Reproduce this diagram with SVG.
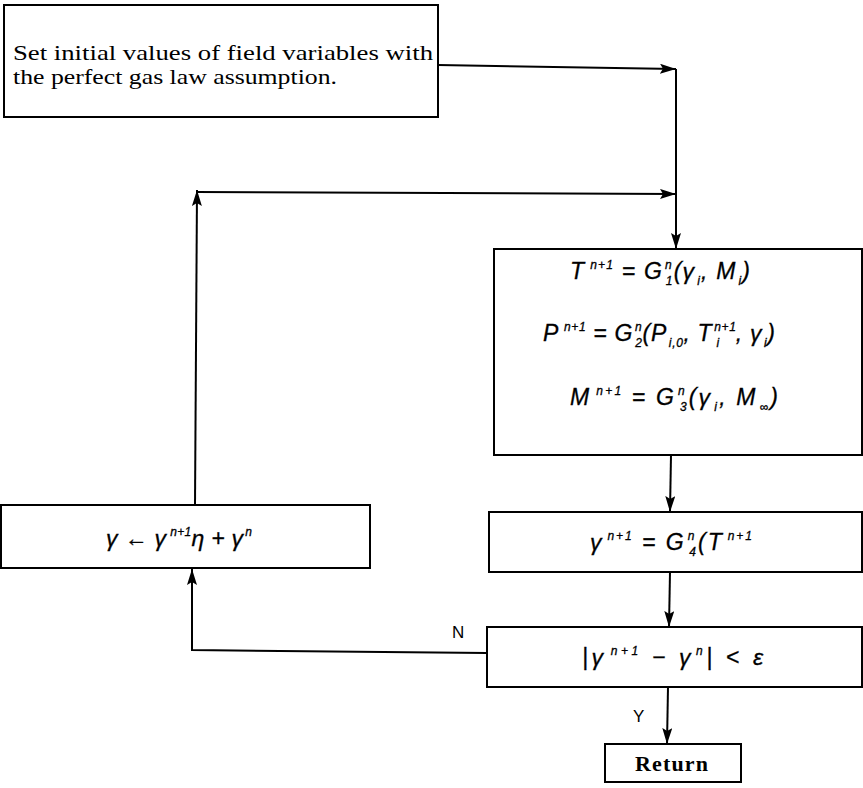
<svg xmlns="http://www.w3.org/2000/svg" width="863" height="788" viewBox="0 0 863 788">
<style>
.box{fill:#fff;stroke:#000;stroke-width:2}
.ln{fill:none;stroke:#000;stroke-width:2}
.ser{font-family:"Liberation Serif",serif;font-size:22px;fill:#000}
.eq{font-family:"Liberation Sans",sans-serif;font-style:italic;font-size:23px;fill:#000;stroke:#000;stroke-width:0.3}
.s{font-size:12px}
.lbl{font-family:"Liberation Sans",sans-serif;font-size:17px;fill:#000}
</style>
<defs>
<marker id="ah" viewBox="0 0 16 10" refX="16" refY="5" markerWidth="16" markerHeight="10" markerUnits="userSpaceOnUse" orient="auto">
<path d="M0,0 L16,5 L0,10 L3,5 Z" fill="#000"/>
</marker>
</defs>
<rect width="863" height="788" fill="#fff"/>

<g id="connectors">
<path class="ln" d="M438,65 L676,69" marker-end="url(#ah)"/>
<path class="ln" d="M676,69 L676,249" marker-end="url(#ah)"/>
<path class="ln" d="M197,192 L676,194" marker-end="url(#ah)"/>
<path class="ln" d="M195,505 L197,190" marker-end="url(#ah)"/>
<path class="ln" d="M671,455 L670,512" marker-end="url(#ah)"/>
<path class="ln" d="M670,572 L669,627" marker-end="url(#ah)"/>
<path class="ln" d="M487,653 L192,650 L192,569" marker-end="url(#ah)"/>
<path class="ln" d="M668,687 L667,744" marker-end="url(#ah)"/>
<text class="lbl" x="452" y="638">N</text>
<text class="lbl" x="633" y="722">Y</text>
</g>

<g id="init">
<rect class="box" x="4" y="5" width="434" height="112"/>
<text class="ser" x="13" y="60" textLength="420" lengthAdjust="spacingAndGlyphs">Set initial values of field variables with</text>
<text class="ser" x="13" y="84" textLength="324" lengthAdjust="spacingAndGlyphs">the perfect gas law assumption.</text>
</g>

<g id="update">
<rect class="box" x="494" y="249" width="368" height="206"/>
<text class="eq" x="570" y="279" textLength="180">T<tspan class="s" dx="5" dy="-10">n+1</tspan><tspan dy="10"> = G</tspan><tspan class="s" dx="2" dy="-10">n</tspan><tspan class="s" dx="-7" dy="16">1</tspan><tspan dy="-6">(γ</tspan><tspan class="s" dx="2" dy="6">i</tspan><tspan dy="-6">, M</tspan><tspan class="s" dx="2" dy="6">i</tspan><tspan dy="-6">)</tspan></text>
<text class="eq" x="543" y="341" textLength="232">P<tspan class="s" dx="5" dy="-10">n+1</tspan><tspan dy="10"> = G</tspan><tspan class="s" dx="2" dy="-10">n</tspan><tspan class="s" dx="-7" dy="16">2</tspan><tspan dy="-6">(P</tspan><tspan class="s" dx="2" dy="6">i,0</tspan><tspan dy="-6">, T</tspan><tspan class="s" dx="2" dy="-10">n+1</tspan><tspan class="s" dx="-20" dy="16">i</tspan><tspan dx="16" dy="-6">, γ</tspan><tspan class="s" dx="2" dy="6">i</tspan><tspan dy="-6">)</tspan></text>
<text class="eq" x="570" y="405" textLength="208">M<tspan class="s" dx="5" dy="-10">n+1</tspan><tspan dy="10"> = G</tspan><tspan class="s" dx="2" dy="-10">n</tspan><tspan class="s" dx="-7" dy="16">3</tspan><tspan dy="-6">(γ</tspan><tspan class="s" dx="2" dy="6">i</tspan><tspan dy="-6">, M</tspan><tspan class="s" dx="2" dy="6">∞</tspan><tspan dy="-6">)</tspan></text>
</g>

<g id="gamma">
<rect class="box" x="489" y="512" width="373" height="60"/>
<text class="eq" x="590" y="550" textLength="162">γ<tspan class="s" dx="4" dy="-10">n+1</tspan><tspan dy="10"> = G</tspan><tspan class="s" dx="2" dy="-10">n</tspan><tspan class="s" dx="-7" dy="16">4</tspan><tspan dy="-6">(T</tspan><tspan class="s" dx="4" dy="-10">n+1</tspan></text>
</g>

<g id="relax">
<rect class="box" x="1" y="505" width="369" height="63"/>
<text class="eq" x="106" y="546" textLength="146">γ ← γ<tspan class="s" dx="4" dy="-10">n+1</tspan><tspan dy="10">η + γ</tspan><tspan class="s" dx="2" dy="-10">n</tspan></text>
</g>

<g id="check">
<rect class="box" x="487" y="627" width="375" height="60"/>
<text class="eq" x="582" y="665" textLength="181">|γ<tspan class="s" dx="4" dy="-10">n+1</tspan><tspan dy="10"> − γ</tspan><tspan class="s" dx="2" dy="-10">n</tspan><tspan dy="10">|  &lt;  ε</tspan></text>
</g>

<g id="return">
<rect class="box" x="605" y="744" width="136" height="38"/>
<text class="ser" x="635" y="771" font-weight="bold" textLength="73">Return</text>
</g>
</svg>
